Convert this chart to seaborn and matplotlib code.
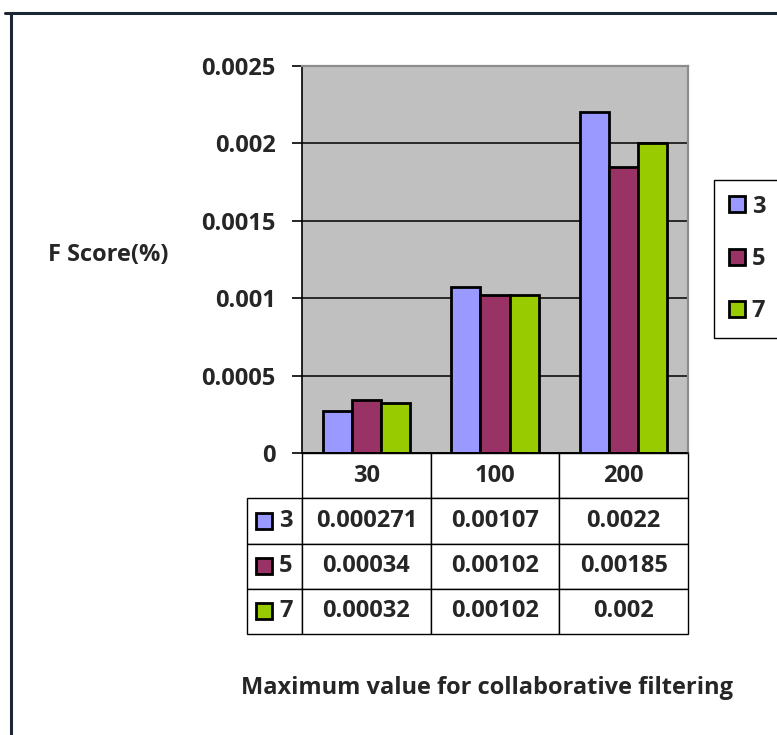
import matplotlib
matplotlib.use("Agg")
import matplotlib.pyplot as plt
from matplotlib.lines import Line2D
from matplotlib.patches import Rectangle
import seaborn as sns
import pandas as pd

categories = ["30", "100", "200"]
series_names = ["3", "5", "7"]
values_3 = [0.000271, 0.00107, 0.0022]
values_5 = [0.00034, 0.00102, 0.00185]
values_7 = [0.00032, 0.00102, 0.002]
colors = ["#9999FF", "#993366", "#99CC00"]
y_ticks = [0, 0.0005, 0.001, 0.0015, 0.002, 0.0025]
y_label = "F Score(%)"
x_label = "Maximum value for collaborative filtering"

series_values = [values_3, values_5, values_7]
rows = []
for name, vals in zip(series_names, series_values):
    for c, v in zip(categories, vals):
        rows.append({"cat": c, "series": name, "val": v})
df = pd.DataFrame(rows)

sns.set_theme(style="white")
plt.rcParams["font.family"] = ["Open Sans", "DejaVu Sans"]
plt.rcParams["font.weight"] = "bold"
FS = 17

W, H = 777, 735
fig = plt.figure(figsize=(W / 100, H / 100), dpi=100)
fig.patch.set_facecolor("white")

L, R, T, B = 302, 688, 66, 453
ax = fig.add_axes([L / W, 1 - B / H, (R - L) / W, (B - T) / H])
ax.set_facecolor("#C0C0C0")

sns.barplot(data=df, x="cat", y="val", hue="series", order=categories,
            hue_order=series_names, palette=colors, width=0.68,
            edgecolor="black", linewidth=2.0, saturation=1, ax=ax)

ax.set_ylim(0, 0.0025)
ax.set_xlim(-0.5, 2.5)
ax.set_yticks(y_ticks)
ax.set_yticklabels([f"{v:g}" for v in y_ticks], fontsize=FS, fontweight="bold")
ax.tick_params(axis="y", direction="out", length=7, width=1.2, color="black", pad=12, left=True)
ax.tick_params(axis="x", bottom=False, labelbottom=False)
ax.yaxis.grid(True, color="black", linewidth=1.1)
ax.xaxis.grid(False)
ax.set_axisbelow(True)
for s in ["top", "right"]:
    ax.spines[s].set_color("#8c8c8c")
    ax.spines[s].set_linewidth(1.6)
ax.spines["left"].set_color("black")
ax.spines["left"].set_linewidth(1.2)
ax.spines["bottom"].set_color("black")
ax.spines["bottom"].set_linewidth(1.2)

ax.set_ylabel(y_label, rotation=0, fontsize=FS, fontweight="bold", va="center", ha="center")
ax.yaxis.set_label_coords((108 - L) / (R - L), (B - 255) / (B - T))
ax.set_xlabel(x_label, fontsize=FS, fontweight="bold", va="center", ha="center")
ax.xaxis.set_label_coords((487 - L) / (R - L), (B - 688) / (B - T))

# legend
handles, labels = ax.get_legend_handles_labels()
for h in handles:
    h.set_edgecolor("black")
    h.set_linewidth(2.0)
ax.legend(handles, labels, loc="upper left", bbox_to_anchor=(714 / W, 1 - 180 / H),
          bbox_transform=fig.transFigure, borderaxespad=0, fancybox=False,
          frameon=True, edgecolor="black", framealpha=1,
          handlelength=0.68, handleheight=0.68, handletextpad=0.3,
          labelspacing=1.2, borderpad=0.62, prop={"weight": "bold", "size": FS})
ax.get_legend().get_frame().set_linewidth(1.0)

# data table under the axes
TL, TB = 247, 634
cell_text = [[""] + categories]
for name, vals in zip(series_names, series_values):
    cell_text.append([""] + [repr(v) for v in vals])
cw = [(L - TL)] + [(R - L) / 3] * 3
tab = ax.table(cellText=cell_text, colWidths=cw, cellLoc="center",
               bbox=[(TL - L) / (R - L), -(TB - B) / (B - T), (R - TL) / (R - L), (TB - B) / (B - T)])
tab.auto_set_font_size(False)
tab.set_fontsize(FS)
for (r, c), cell in tab.get_celld().items():
    cell.set_edgecolor("black")
    cell.set_linewidth(1.0)
    cell.set_facecolor("white")
    cell.get_text().set_fontweight("bold")
    if r == 0 and c == 0:
        cell.visible_edges = ""
        cell.set_facecolor("none")

row_h = (TB - B) / 4
for i, (name, col) in enumerate(zip(series_names, colors)):
    yc = B + row_h * (i + 1.5)
    sq = 16
    ax.add_patch(Rectangle(((256 - L) / (R - L), (B - yc - sq / 2) / (B - T)),
                           sq / (R - L), sq / (B - T), transform=ax.transAxes,
                           facecolor=col, edgecolor="black", linewidth=2.0, clip_on=False))
    ax.text((286 - L) / (R - L), (B - yc) / (B - T), name, transform=ax.transAxes,
            ha="center", va="center", fontsize=FS, fontweight="bold")

# outer frame lines
fig.add_artist(Line2D([5 / W, 1], [1 - 13 / H, 1 - 13 / H], transform=fig.transFigure,
                      color="#1c2733", linewidth=2.2))
fig.add_artist(Line2D([11 / W, 11 / W], [1 - 13 / H, 0], transform=fig.transFigure,
                      color="#1c2733", linewidth=2.2))

fig.savefig("out.png", dpi=100, facecolor="white")
